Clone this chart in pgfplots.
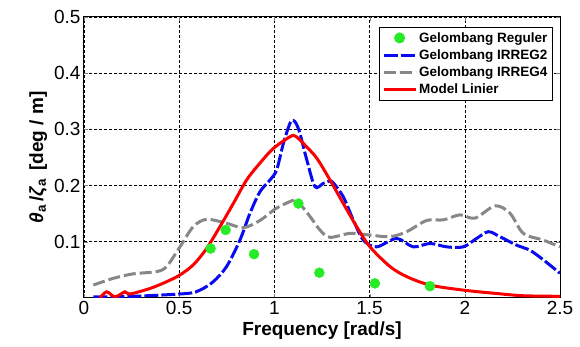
\documentclass[border=0pt]{standalone}
\usepackage{fontspec}
\setmainfont{Liberation Sans}
\usepackage{pgfplots}
\pgfplotsset{compat=1.18}
\definecolor{cgreen}{RGB}{40,235,40}
\definecolor{cblue}{RGB}{10,10,240}
\definecolor{cgray}{RGB}{135,135,135}
\definecolor{cred}{RGB}{250,0,0}
\begin{document}
\begin{tikzpicture}
\begin{axis}[
  scale only axis, width=476pt, height=281pt,
  xmin=0, xmax=2.5, ymin=0, ymax=0.5,
  xtick={0,0.5,1,1.5,2,2.5},
  ytick={0.1,0.2,0.3,0.4,0.5},
  xticklabels={0,0.5,1,1.5,2,2.5},
  yticklabels={0.1,0.2,0.3,0.4,0.5},
  xmajorgrids, ymajorgrids,
  grid style={black, line width=0.6pt, dash pattern=on 3pt off 2pt},
  tick align=inside,
  major tick length=4pt,
  axis line style={black, line width=1pt},
  /pgf/number format/assume math mode=true,
  tick label style={font=\fontsize{19}{19}\selectfont},
  xlabel={Frequency {[}rad/s{]}},
  ylabel={\textit{θ}\textsubscript{a}\,/\textit{ζ}\textsubscript{a}\hspace{8pt}{[}deg / m{]}},
  xlabel style={font=\bfseries\fontsize{19}{22}\selectfont},
  ylabel style={font=\bfseries\fontsize{19}{22}\selectfont},
  legend style={at={(0.985,0.965)}, anchor=north east, draw=black, line width=1pt,
    font=\bfseries\fontsize{13.5}{16}\selectfont, row sep=2pt, inner sep=3pt},
  legend cell align=left,
  legend image code/.code={\draw[mark repeat=2,mark phase=2] plot coordinates {(0pt,0pt) (16pt,0pt) (32pt,0pt)};},
]
\addplot[only marks, mark=*, mark size=5pt, color=cgreen] coordinates {
(0.665,0.088) (0.744,0.121) (0.893,0.078) (1.126,0.168) (1.236,0.045) (1.528,0.026) (1.817,0.021)};
\addlegendentry{Gelombang Reguler}
\addplot[color=cblue, line width=3pt, dash pattern=on 14pt off 3pt, smooth] coordinates {
(0.049,0.002) (0.26,0.003) (0.539,0.008) (0.609,0.014) (0.679,0.029) (0.749,0.056) (0.819,0.103)
(0.872,0.151) (0.924,0.189) (0.977,0.21) (1.012,0.228) (1.047,0.275) (1.082,0.311) (1.099,0.316)
(1.115,0.31) (1.134,0.293) (1.17,0.246) (1.213,0.198) (1.257,0.204) (1.29,0.208) (1.309,0.205) (1.362,0.18)
(1.414,0.139) (1.467,0.103) (1.537,0.091) (1.642,0.106) (1.729,0.091) (1.817,0.097) (1.905,0.091)
(1.992,0.091) (2.062,0.106) (2.124,0.118) (2.185,0.109) (2.272,0.094) (2.342,0.085) (2.412,0.068) (2.5,0.044)};
\addlegendentry{Gelombang IRREG2}
\addplot[color=cgray, line width=3pt, dash pattern=on 12pt off 4pt, smooth] coordinates {
(0.049,0.023) (0.154,0.035) (0.259,0.043) (0.382,0.047) (0.434,0.056) (0.504,0.091) (0.574,0.127)
(0.644,0.14) (0.749,0.133) (0.837,0.125) (0.924,0.138) (1.012,0.16) (1.099,0.174) (1.117,0.174)
(1.187,0.145) (1.239,0.121) (1.292,0.108) (1.397,0.115) (1.502,0.112) (1.607,0.109) (1.695,0.118)
(1.8,0.138) (1.887,0.139) (1.975,0.148) (2.053,0.142) (2.159,0.164) (2.237,0.151) (2.307,0.115)
(2.412,0.103) (2.5,0.091)};
\addlegendentry{Gelombang IRREG4}
\addplot[color=cred, line width=3pt, smooth] coordinates {
(0.084,0.0) (0.119,0.011) (0.163,0.002) (0.215,0.011) (0.24,0.007) (0.347,0.017) (0.434,0.029)
(0.504,0.041) (0.574,0.059) (0.644,0.088) (0.714,0.127) (0.784,0.168) (0.854,0.21) (0.924,0.24)
(0.994,0.266) (1.082,0.287) (1.11,0.288) (1.152,0.275) (1.222,0.249) (1.292,0.21) (1.362,0.168)
(1.432,0.127) (1.502,0.091) (1.607,0.056) (1.695,0.038) (1.817,0.023) (1.992,0.014) (2.167,0.008)
(2.307,0.004) (2.5,0.003)};
\addlegendentry{Model Linier}
\end{axis}
\path (current axis.south west) +(-84pt,-49pt) rectangle +(496pt,298pt);
\end{tikzpicture}
\end{document}
